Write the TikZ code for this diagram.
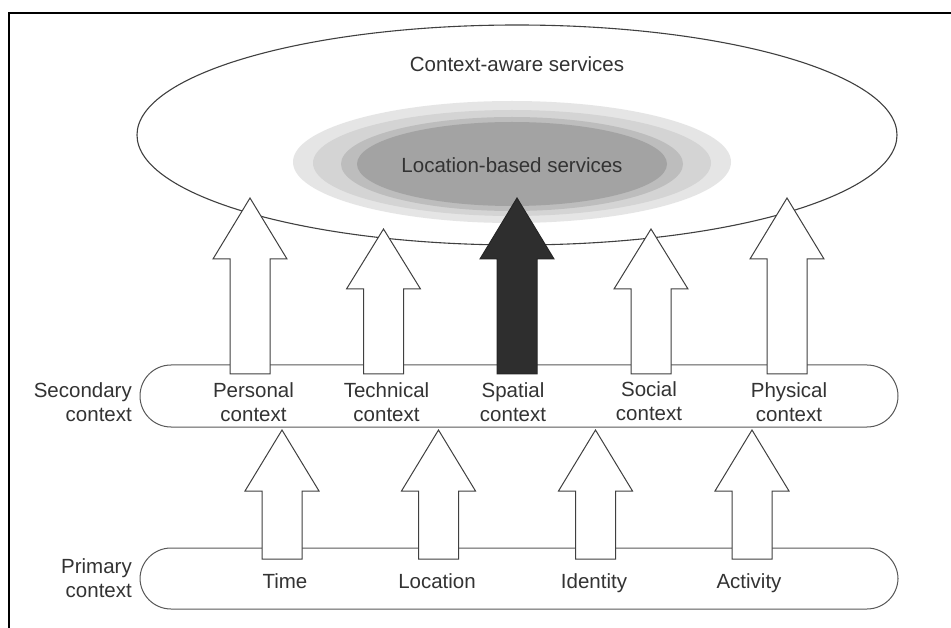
\documentclass[tikz,border=0pt]{standalone}
\usepackage{fontspec}
\setmainfont{Liberation Sans}
\begin{document}
\begin{tikzpicture}[x=1pt,y=-1pt,
  lbl/.style={font=\fontsize{20.5}{23.5}\selectfont, text=black!80, inner sep=0pt, align=center},
  band/.style={draw=black!65, line width=1pt, fill=white, rounded corners=31pt},
  whitearrow/.style={draw=black!75, line width=1pt, fill=white, line join=miter},
  blackarrow/.style={draw=black!85, line width=1pt, fill=black!82, line join=miter}]
\newcommand\myuparrow[5]{%
  \path[#5] (#1-20,#4) -- (#1-20,#3) -- (#1-37,#3) -- (#1,#2) -- (#1+37,#3) -- (#1+20,#3) -- (#1+20,#4) -- cycle;}
\useasboundingbox (0,0) rectangle (951,628);
\fill[white] (0,0) rectangle (951,628);
% frame
\draw[line width=2pt] (951,13) -- (9,13) -- (9,628);
% big ellipse
\draw[black!75, line width=1.1pt, fill=white] (517,135) ellipse [x radius=380pt, y radius=110pt];
\node[lbl, anchor=base] (cas) at (517,72) {Context-aware services};
% shaded ellipses
\fill[black!10] (512,162) ellipse [x radius=219pt, y radius=61pt];
\fill[black!17] (512,163) ellipse [x radius=199pt, y radius=53pt];
\fill[black!26] (512,164) ellipse [x radius=171pt, y radius=47pt];
\fill[black!36] (512,164) ellipse [x radius=155pt, y radius=42pt];
\node[lbl, anchor=base] (lbs) at (512,173) {Location-based services};
% bands
\draw[band] (140,365) rectangle (898,427);
\draw[band] (140,548) rectangle (898,609);
% upper arrows
\myuparrow{250}{198}{259}{374}{whitearrow}
\myuparrow{383.5}{229}{289}{374}{whitearrow}
\myuparrow{517}{198}{259}{374}{blackarrow}
\myuparrow{651}{229}{289}{374}{whitearrow}
\myuparrow{787}{198}{259}{374}{whitearrow}
% lower arrows
\myuparrow{282}{430}{491}{559}{whitearrow}
\myuparrow{438.5}{430}{491}{559}{whitearrow}
\myuparrow{595.5}{430}{491}{559}{whitearrow}
\myuparrow{752}{430}{491}{559}{whitearrow}
% labels
\node[lbl, anchor=east, align=right] (sec) at (132,402) {Secondary\\context};
\node[lbl, anchor=east, align=right] (pri) at (132,578) {Primary\\context};
\node[lbl] (pers) at (253.5,402) {Personal\\context};
\node[lbl] (tech) at (386.5,402) {Technical\\context};
\node[lbl] (spat) at (513,402) {Spatial\\context};
\node[lbl] (soc) at (649,401) {Social\\context};
\node[lbl] (phys) at (789,402) {Physical\\context};
\node[lbl, anchor=base] (time) at (285,588) {Time};
\node[lbl, anchor=base] (loc) at (437,588) {Location};
\node[lbl, anchor=base] (iden) at (594,588) {Identity};
\node[lbl, anchor=base] (act) at (749,588) {Activity};
\end{tikzpicture}
\end{document}
